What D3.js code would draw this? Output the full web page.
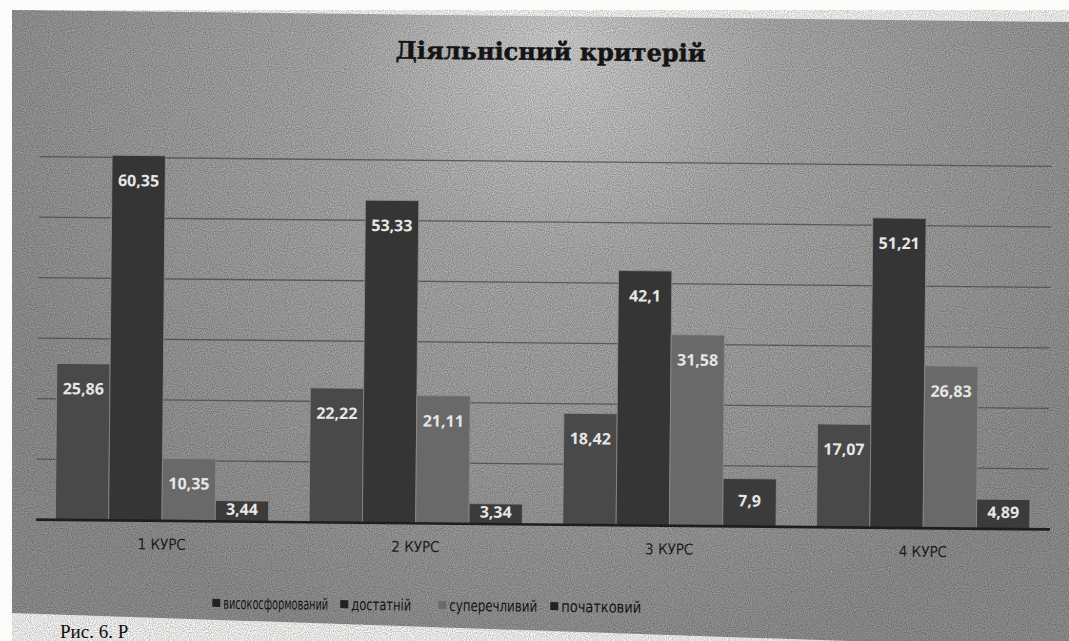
<!DOCTYPE html>
<html>
<head>
<meta charset="utf-8">
<script src="https://cdnjs.cloudflare.com/ajax/libs/d3/7.8.5/d3.min.js"></script>
<style>
  html, body { margin: 0; padding: 0; background: #fbfbfa; }
  svg { display: block; }
</style>
</head>
<body>
<div id="chart"></div>
<script>
// data
const courses = ["1 КУРС", "2 КУРС", "3 КУРС", "4 КУРС"];
const seriesNames = ["високосформований", "достатній", "суперечливий", "початковий"];
const vysokoValues = [25.86, 22.22, 18.42, 17.07];
const dostatniiValues = [60.35, 53.33, 42.1, 51.21];
const superechValues = [10.35, 21.11, 31.58, 26.83];
const pochatkValues = [3.44, 3.34, 7.9, 4.89];
const gridTicks = [10, 20, 30, 40, 50, 60];

const seriesValues = [vysokoValues, dostatniiValues, superechValues, pochatkValues];
const seriesColors = ["#494949", "#353535", "#696969", "#3b3b3b"];

const W = 1069, H = 641;

const svg = d3.select("#chart").append("svg")
  .attr("width", W)
  .attr("height", H);

const defs = svg.append("defs");

// light patch behind the title, darker towards the edges
const grad = defs.append("radialGradient")
  .attr("id", "bg")
  .attr("gradientUnits", "userSpaceOnUse")
  .attr("cx", 560).attr("cy", 60).attr("r", 620)
  .attr("fx", 560).attr("fy", 40);
grad.append("stop").attr("offset", "0").attr("stop-color", "#d4d4d4");
grad.append("stop").attr("offset", "0.35").attr("stop-color", "#aeaeae");
grad.append("stop").attr("offset", "1").attr("stop-color", "#929292");

// scan grain
const noise = defs.append("filter").attr("id", "grain")
  .attr("x", 0).attr("y", 0).attr("width", "100%").attr("height", "100%");
noise.append("feTurbulence")
  .attr("type", "fractalNoise")
  .attr("baseFrequency", "0.95")
  .attr("numOctaves", 1)
  .attr("seed", 3);
noise.append("feColorMatrix")
  .attr("type", "matrix")
  .attr("values", "0 0 0 0 0  0 0 0 0 0  0 0 0 0 0  0 0 0 -1.6 1.1");

// frame of the scanned chart (slightly tilted)
const framePath = "M12,10 L1069,22 L1069,641 L850,641 L12,613 Z";
svg.append("path")
  .attr("d", framePath)
  .attr("fill", "url(#bg)");
svg.append("path")
  .attr("d", framePath)
  .attr("fill", "#000")
  .attr("filter", "url(#grain)")
  .attr("opacity", 0.35);

// whole chart is rotated a little, as on the scan
const g = svg.append("g").attr("transform", "rotate(0.55, 540, 320)");

const x0 = d3.scaleBand()
  .domain(courses)
  .range([37, 1052])
  .paddingInner(0.16)
  .paddingOuter(0.08);

const x1 = d3.scaleBand()
  .domain(d3.range(seriesNames.length))
  .range([0, x0.bandwidth()]);

const y = d3.scaleLinear()
  .domain([0, 70])
  .range([524.5, 101]);

// gridlines
g.append("g")
  .selectAll("line")
  .data(gridTicks)
  .join("line")
  .attr("x1", 38)
  .attr("x2", 1050)
  .attr("y1", d => y(d))
  .attr("y2", d => y(d))
  .attr("stroke", "#4a4a4a")
  .attr("stroke-width", 1.3)
  .attr("opacity", 0.8);

// bars
const groups = g.append("g")
  .selectAll("g")
  .data(courses)
  .join("g")
  .attr("transform", d => `translate(${x0(d)},0)`);

groups.selectAll("rect")
  .data((c, ci) => seriesValues.map((vals, si) => ({ si, v: vals[ci] })))
  .join("rect")
  .attr("x", d => x1(d.si))
  .attr("width", x1.bandwidth())
  .attr("y", d => y(d.v))
  .attr("height", d => y(0) - y(d.v))
  .attr("fill", d => seriesColors[d.si])
  .attr("stroke", "#8c8c8c")
  .attr("stroke-width", 0.8);

// data labels
groups.selectAll("text")
  .data((c, ci) => seriesValues.map((vals, si) => ({ si, v: vals[ci] })))
  .join("text")
  .attr("x", d => x1(d.si) + x1.bandwidth() / 2)
  .attr("y", d => {
    const h = y(0) - y(d.v);
    return y(d.v) + Math.min(25, h / 2 - 2);
  })
  .attr("dy", "0.36em")
  .attr("text-anchor", "middle")
  .attr("font-family", "'Open Sans', 'DejaVu Sans', sans-serif")
  .attr("font-weight", "bold")
  .attr("font-size", 16)
  .attr("fill", "#e6e6e6")
  .text(d => String(d.v).replace(".", ","));

// baseline
g.append("line")
  .attr("x1", 38).attr("x2", 1052)
  .attr("y1", y(0)).attr("y2", y(0))
  .attr("stroke", "#1e1e1e")
  .attr("stroke-width", 2.6);

// category axis
const xAxis = g.append("g")
  .attr("transform", `translate(0,${y(0)})`)
  .call(d3.axisBottom(x0).tickSize(0).tickPadding(18));
xAxis.select(".domain").remove();
xAxis.selectAll("text")
  .attr("font-family", "'DejaVu Sans Condensed', 'Liberation Sans', sans-serif")
  .attr("font-size", 15)
  .attr("fill", "#1c1c1c");

// title
g.append("text")
  .attr("x", 548)
  .attr("y", 60)
  .attr("text-anchor", "middle")
  .attr("font-family", "'DejaVu Serif', 'Liberation Serif', serif")
  .attr("font-weight", "bold")
  .attr("font-size", 24)
  .attr("fill", "#141414")
  .attr("stroke", "#141414")
  .attr("stroke-width", 0.5)
  .text("Діяльнісний критерій");

// legend (narrow font on the scan, so squeeze the text horizontally)
const legendX = [215, 343, 441, 553];
const legendTextW = [105, 60, 88, 80];
const legend = g.append("g")
  .selectAll("g")
  .data(seriesNames)
  .join("g")
  .attr("transform", (d, i) => `translate(${legendX[i]},607)`);
legend.append("rect")
  .attr("x", 0).attr("y", -5)
  .attr("width", 8).attr("height", 8)
  .attr("fill", (d, i) => i === 2 ? "#6b6b6b" : "#222");
legend.append("text")
  .attr("dy", "0.3em")
  .attr("font-family", "'DejaVu Sans Condensed', 'Liberation Sans', sans-serif")
  .attr("font-size", 16)
  .attr("fill", "#141414")
  .text(d => d)
  .each(function (d, i) {
    const sx = legendTextW[i] / this.getComputedTextLength();
    d3.select(this).attr("transform", `translate(11,0) scale(${sx},1)`);
  });

// caption under the chart
svg.append("text")
  .attr("x", 60)
  .attr("y", 638)
  .attr("font-family", "'Liberation Serif', serif")
  .attr("font-size", 19)
  .attr("fill", "#111")
  .text("Рис. 6. Р");
</script>
</body>
</html>
